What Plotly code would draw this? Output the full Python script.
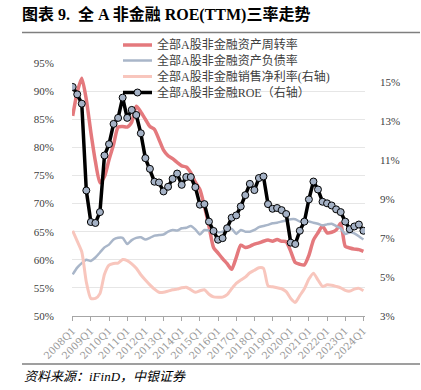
import plotly.graph_objects as go

quarters = [f"{y}Q{q}" for y in range(2008, 2025) for q in range(1, 5)][:65]

asset_turnover = [85.6, 89.8, 92.3, 88.5, 82.7, 77.5, 73.7, 74.8, 77.8, 80.5,
                  83.6, 83.7, 83.6, 84.5, 87.3, 86.3, 85.0, 83.7, 83.2, 81.4,
                  79.5, 78.5, 78.0, 77.3, 76.7, 76.5, 75.5, 73.8, 72.5, 69.5,
                  66.0, 62.2, 61.2, 60.2, 59.3, 58.3, 60.4, 62.6, 62.2, 62.4,
                  62.8, 63.0, 63.3, 63.5, 63.3, 63.6, 63.3, 63.2, 61.5, 59.5,
                  59.2, 59.1, 60.8, 63.5, 64.8, 66.0, 64.8, 64.9, 65.3, 66.5,
                  62.4, 62.1, 61.9, 61.8, 61.5]

debt_ratio = [57.4, 58.6, 59.4, 60.0, 59.8, 60.4, 61.3, 62.2, 62.7, 63.6,
              63.9, 63.9, 62.8, 63.5, 63.9, 64.0, 63.6, 63.9, 64.3, 64.4,
              64.5, 65.0, 65.3, 65.2, 65.6, 65.7, 66.0, 65.4, 64.5, 65.3,
              65.2, 65.1, 64.9, 65.0, 65.3, 65.5, 64.6, 65.3, 65.0, 65.0,
              65.3, 65.8, 66.0, 66.2, 66.5, 66.6, 66.8, 67.0, 67.2, 67.2,
              66.8, 66.7, 66.8, 66.6, 66.4, 66.1, 66.3, 66.4, 66.0, 65.6,
              64.6, 64.9, 64.7, 64.2, 63.6]

net_margin = [7.38, 6.85, 6.30, 4.75, 3.90, 3.90, 4.15, 5.15, 5.62, 5.70,
              5.72, 5.90, 5.85, 5.68, 5.45, 5.12, 4.85, 4.60, 4.38, 4.22,
              4.22, 4.28, 4.35, 4.38, 4.45, 4.48, 4.35, 4.22, 4.30, 4.35,
              4.12, 3.98, 3.96, 3.97, 4.10, 4.40, 4.68, 4.85, 5.00, 5.22,
              5.35, 5.48, 5.45, 4.55, 4.50, 4.45, 4.40, 4.25, 3.90, 3.70,
              4.05, 4.40, 4.90, 5.20, 4.85, 4.52, 4.60, 4.58, 4.52, 4.45,
              4.32, 4.28, 4.38, 4.42, 4.30]

roe = [14.77, 14.39, 13.91, 9.45, 7.83, 7.78, 8.34, 11.25, 11.83, 12.87,
       13.18, 14.22, 13.18, 13.59, 13.33, 12.39, 11.11, 10.56, 9.90, 9.86,
       9.40, 9.64, 10.05, 10.32, 9.74, 10.14, 10.14, 9.62, 8.72, 8.75,
       7.85, 7.37, 6.92, 7.00, 7.51, 8.05, 8.17, 8.63, 9.21, 9.79,
       9.47, 10.09, 10.17, 8.75, 8.51, 8.55, 8.44, 8.24, 6.77, 6.70,
       7.38, 7.85, 8.99, 9.91, 9.50, 8.87, 8.79, 8.68, 8.48, 8.34,
       7.85, 7.46, 7.60, 7.70, 7.38]

names = ["全部A股非金融资产周转率", "全部A股非金融资产负债率",
         "全部A股非金融销售净利率(右轴)", "全部A股非金融ROE（右轴）"]
colors = ["#E4797D", "#A9B6C9", "#F8C6BD", "#000000"]
left_ticks = [50, 55, 60, 65, 70, 75, 80, 85, 90, 95]
right_ticks = [3, 5, 7, 9, 11, 13, 15]

SERIF = "Liberation Serif, Noto Sans CJK SC"
MARKER_FILL = "#A5B2C6"

fig = go.Figure()
fig.add_trace(go.Scatter(x=quarters, y=asset_turnover, name=names[0], mode="lines",
                         line=dict(color=colors[0], width=3.5, shape="spline", smoothing=0.6)))
fig.add_trace(go.Scatter(x=quarters, y=debt_ratio, name=names[1], mode="lines",
                         line=dict(color=colors[1], width=2.5, shape="spline", smoothing=0.6)))
fig.add_trace(go.Scatter(x=quarters, y=net_margin, name=names[2], mode="lines", yaxis="y2",
                         line=dict(color=colors[2], width=3, shape="spline", smoothing=0.6)))
fig.add_trace(go.Scatter(x=quarters, y=roe, name=names[3], mode="lines+markers", yaxis="y2",
                         line=dict(color=colors[3], width=3.5),
                         marker=dict(size=7, color=MARKER_FILL, line=dict(color="#000000", width=1))))

W, H = 421, 390
L, R, T, B = 72, 56, 63, 74
pw, ph = W - L - R, H - T - B


def px(x):
    return (x - L) / pw


def py(y):
    return (H - B - y) / ph


# manual legend (decoration) -- rows as in the reference
legend_rows = [45, 60.5, 76.5, 92.5]
legend_widths = [3.5, 2.5, 3, 3.5]
shapes = [
    dict(type="line", xref="paper", yref="paper", x0=px(22), x1=px(420), y0=py(32.5), y1=py(32.5),
         line=dict(color="#7F7F7F", width=1.5)),
    dict(type="line", xref="paper", yref="paper", x0=px(22), x1=px(420), y0=py(364), y1=py(364),
         line=dict(color="#7F7F7F", width=1.5)),
]
annotations = [
    dict(text="<i>资料来源：iFinD，中银证券</i>", xref="paper", yref="paper",
         x=px(22), y=py(376), xanchor="left", yanchor="middle", showarrow=False,
         font=dict(family=SERIF, size=13, color="#000000")),
]
for name, col, yr, lw in zip(names, colors, legend_rows, legend_widths):
    shapes.append(dict(type="line", xref="paper", yref="paper", x0=px(123), x1=px(152),
                       y0=py(yr), y1=py(yr), line=dict(color=col, width=lw)))
    annotations.append(dict(text=name, xref="paper", yref="paper", x=px(155), y=py(yr),
                            xanchor="left", yanchor="middle", showarrow=False,
                            font=dict(family=SERIF, size=12, color="#404040")))
shapes.append(dict(type="circle", xref="paper", yref="paper", xsizemode="pixel", ysizemode="pixel",
                   xanchor=px(137.5), yanchor=py(legend_rows[3]), x0=-3.5, x1=3.5, y0=-3.5, y1=3.5,
                   fillcolor=MARKER_FILL, line=dict(color="#000000", width=1)))

fig.update_layout(
    width=W, height=H,
    margin=dict(l=L, r=R, t=T, b=B, autoexpand=False),
    paper_bgcolor="white", plot_bgcolor="white",
    showlegend=False,
    title=dict(text="<b>图表 9.  全 A 非金融 ROE(TTM)三率走势</b>",
               x=22 / W, xref="container", xanchor="left",
               y=1 - 14 / H, yref="container", yanchor="middle",
               font=dict(family=SERIF, size=16, color="#000000")),
    xaxis=dict(type="category", range=[-0.15, 64.35], tickmode="array",
               tickvals=quarters[::4], ticktext=quarters[::4], tickangle=-45,
               ticks="outside", ticklen=4, tickcolor="#A6A6A6", automargin=False,
               showline=True, linecolor="#A6A6A6", linewidth=1, showgrid=False,
               tickfont=dict(family="DejaVu Serif", size=10, color="#999999")),
    yaxis=dict(range=[50, 95], tickmode="array", tickvals=left_ticks,
               ticktext=[f"{v}%" for v in left_ticks], automargin=False,
               showgrid=True, gridcolor="#E6E6E6", gridwidth=1, zeroline=False,
               showline=False, ticklabelstandoff=17,
               tickfont=dict(family=SERIF, size=11, color="#404040")),
    yaxis2=dict(range=[3, 16], tickmode="array", tickvals=right_ticks,
                ticktext=[f"{v}%" for v in right_ticks], overlaying="y", automargin=False,
                side="right", showgrid=False, zeroline=False, showline=False,
                ticklabelstandoff=14,
                tickfont=dict(family=SERIF, size=11, color="#404040")),
    shapes=shapes,
    annotations=annotations,
)

fig.write_html("out.html", config={"displayModeBar": False},
               post_script="document.body.style.margin='0';")
